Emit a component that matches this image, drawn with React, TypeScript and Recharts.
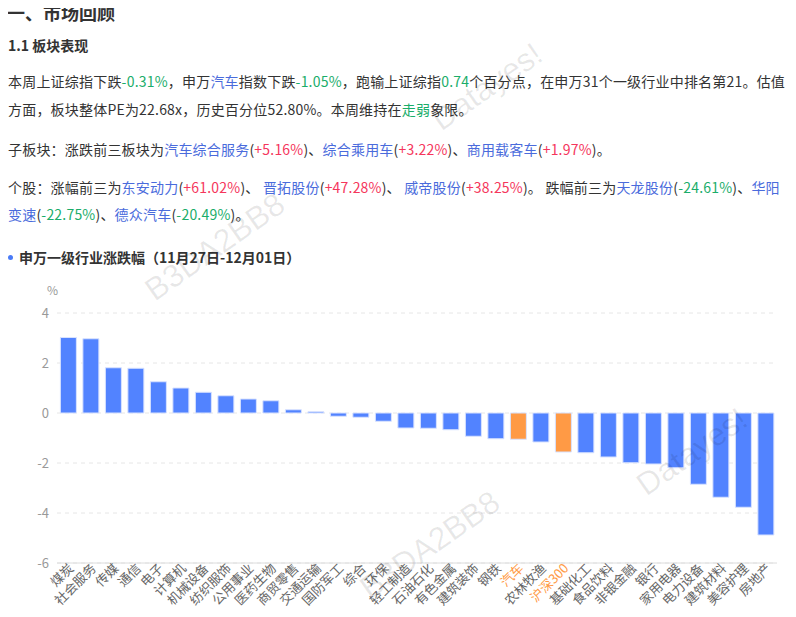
import React from "react";
import { Bar, BarChart, CartesianGrid, Cell, XAxis, YAxis } from "recharts";

// 申万一级行业 + 沪深300, weekly change (%)
const industries = [
  "煤炭", "社会服务", "传媒", "通信", "电子", "计算机", "机械设备", "纺织服饰",
  "公用事业", "医药生物", "商贸零售", "交通运输", "国防军工", "综合", "环保", "轻工制造",
  "石油石化", "有色金属", "建筑装饰", "钢铁", "汽车", "农林牧渔", "沪深300", "基础化工",
  "食品饮料", "非银金融", "银行", "家用电器", "电力设备", "建筑材料", "美容护理", "房地产"
];
const changes = [
  3.02, 2.97, 1.81, 1.79, 1.25, 1.0, 0.83, 0.69,
  0.56, 0.49, 0.13, 0.05, -0.13, -0.17, -0.33, -0.6,
  -0.61, -0.67, -0.93, -1.03, -1.05, -1.16, -1.56, -1.59,
  -1.76, -1.99, -2.04, -2.19, -2.85, -3.37, -3.77, -4.88
];
const highlighted = ["汽车", "沪深300"];
const yTicks = [-6, -4, -2, 0, 2, 4];

const data = industries.map((name, i) => ({ name, value: changes[i] }));

const BLUE = "#5283ff";
const ORANGE = "#ff9a45";
const GREEN = "#1aad6a";
const LINK = "#4a6bdc";
const RED = "#f5365c";

function IndustryTick(props: any) {
  const { x, y, payload } = props;
  const color = highlighted.includes(payload.value) ? ORANGE : "#666";
  return (
    <g transform={`translate(${x + 3},${y - 5})`}>
      <text x={0} y={0} dy="0.35em" textAnchor="end" fill={color} fontSize={13} transform="rotate(-45)">
        {payload.value}
      </text>
    </g>
  );
}

const G = ({ children }: { children: React.ReactNode }) => <span style={{ color: GREEN }}>{children}</span>;
const B = ({ children }: { children: React.ReactNode }) => <span style={{ color: LINK }}>{children}</span>;
const R = ({ children }: { children: React.ReactNode }) => <span style={{ color: RED }}>{children}</span>;

function Line({ top, children }: { top: number; children: React.ReactNode }) {
  return (
    <div
      style={{
        position: "absolute",
        left: 8,
        top,
        height: 28,
        lineHeight: "28px",
        fontSize: 14,
        letterSpacing: 0.2,
        whiteSpace: "nowrap"
      }}
    >
      {children}
    </div>
  );
}

function Watermark({ cx, cy, text }: { cx: number; cy: number; text: string }) {
  return (
    <div
      style={{
        position: "absolute",
        left: cx,
        top: cy,
        transform: "translate(-50%, -50%) rotate(-35deg)",
        fontFamily: "'Liberation Sans', Arial, sans-serif",
        fontSize: 32,
        color: "rgba(0,0,0,0.09)",
        whiteSpace: "nowrap",
        pointerEvents: "none"
      }}
    >
      {text}
    </div>
  );
}

export default function App() {
  return (
    <div
      style={{
        position: "relative",
        width: 796,
        height: 617,
        margin: -8,
        overflow: "hidden",
        background: "#fff",
        color: "#333",
        fontFamily: "'Noto Sans CJK SC', 'Noto Sans', sans-serif"
      }}
    >
      <div style={{ position: "absolute", left: 7, top: 0, fontSize: 18, fontWeight: 700, lineHeight: "24px" }}>一、市场回顾</div>
      <div style={{ position: "absolute", left: 8, top: 35, fontSize: 14, fontWeight: 700, lineHeight: "20px" }}>1.1 板块表现</div>

      <Line top={67}>
        本周上证综指下跌<G>-0.31%</G>，申万<B>汽车</B>指数下跌<G>-1.05%</G>，跑输上证综指<G>0.74</G>个百分点，在申万31个一级行业中排名第21。估值
      </Line>
      <Line top={95}>
        方面，板块整体PE为22.68x，历史百分位52.80%。本周维持在<G>走弱</G>象限。
      </Line>
      <Line top={135}>
        子板块：涨跌前三板块为<B>汽车综合服务</B>(<R>+5.16%</R>)、<B>综合乘用车</B>(<R>+3.22%</R>)、<B>商用载客车</B>(<R>+1.97%</R>)。
      </Line>
      <Line top={173}>
        个股：涨幅前三为<B>东安动力</B>(<R>+61.02%</R>)、 <B>晋拓股份</B>(<R>+47.28%</R>)、 <B>威帝股份</B>(<R>+38.25%</R>)。 跌幅前三为<B>天龙股份</B>(<G>-24.61%</G>)、<B>华阳</B>
      </Line>
      <Line top={200}>
        <B>变速</B>(<G>-22.75%</G>)、<B>德众汽车</B>(<G>-20.49%</G>)。
      </Line>

      <div style={{ position: "absolute", left: 8, top: 255, width: 5, height: 5, borderRadius: "50%", background: "#4a7bf7" }} />
      <div style={{ position: "absolute", left: 19, top: 247, fontSize: 14, fontWeight: 700, lineHeight: "20px" }}>
        申万一级行业涨跌幅（11月27日-12月01日）
      </div>
      <div style={{ position: "absolute", left: 47, top: 282, fontSize: 12, color: "#999", lineHeight: "16px" }}>%</div>

      <div style={{ position: "absolute", left: 0, top: 280 }}>
        <BarChart width={796} height={337} data={data} margin={{ top: 33, right: 19, bottom: 0, left: 0 }} barCategoryGap="15%">
          <CartesianGrid vertical={false} stroke="#e6e6e6" strokeDasharray="4 4" />
          <XAxis
            dataKey="name"
            interval={0}
            tickLine={false}
            axisLine={{ stroke: "#dcdcdc" }}
            height={54}
            tick={<IndustryTick />}
          />
          <YAxis
            domain={[-6, 4]}
            ticks={yTicks}
            tickLine={false}
            axisLine={false}
            width={57}
            tick={{ fill: "#999", fontSize: 13 }}
          />
          <Bar dataKey="value" isAnimationActive={false} stroke="#d8e2ff" strokeWidth={1}>
            {data.map((d) => (
              <Cell key={d.name} fill={highlighted.includes(d.name) ? ORANGE : BLUE} />
            ))}
          </Bar>
        </BarChart>
      </div>

      <Watermark cx={487} cy={87} text="Datayes!" />
      <Watermark cx={215} cy={247} text="B3DA2BB8" />
      <Watermark cx={692} cy={452} text="Datayes!" />
      <Watermark cx={430} cy={545} text="B3DA2BB8" />
    </div>
  );
}
